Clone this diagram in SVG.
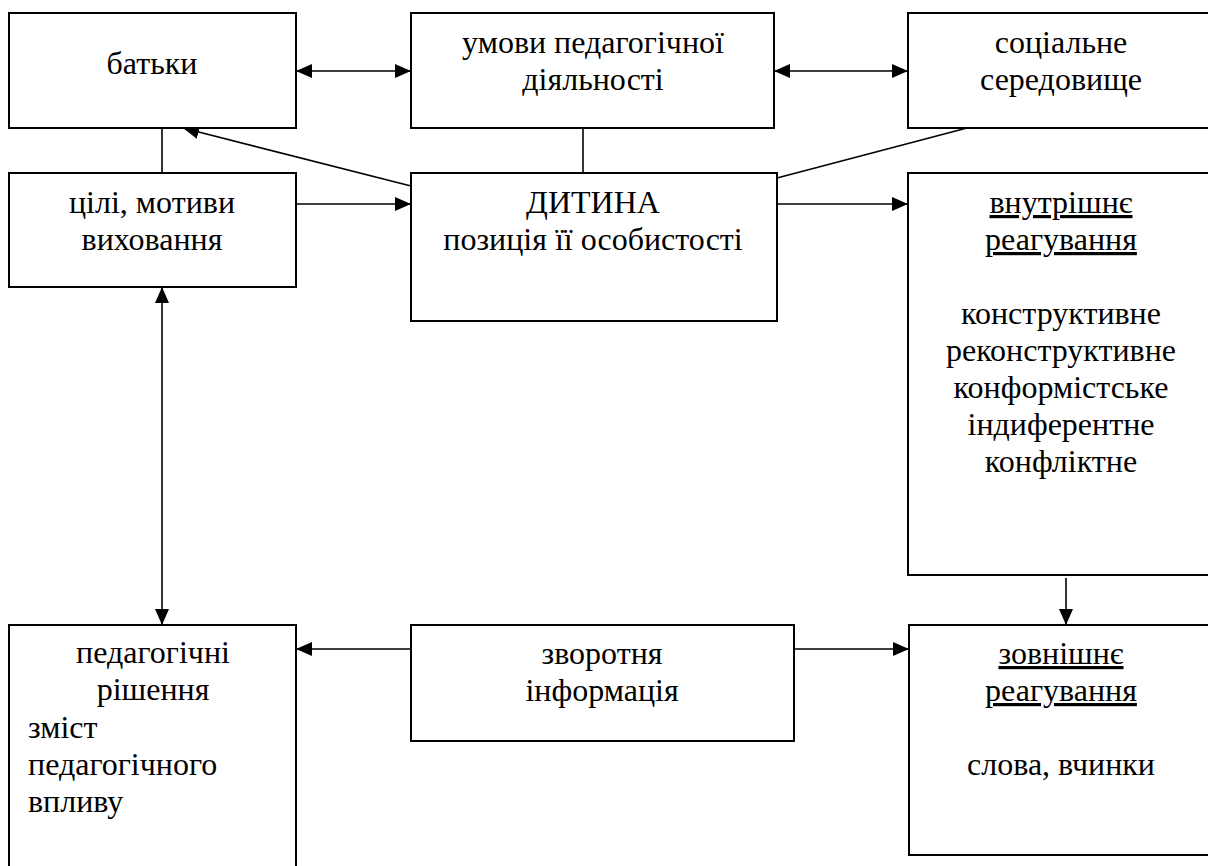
<svg xmlns="http://www.w3.org/2000/svg" width="1208" height="866" viewBox="0 0 1208 866">
<style>
.box{fill:#fff;stroke:#000;stroke-width:2}
.c{stroke:#000;stroke-width:1.6;fill:none}
</style>
<defs>
<marker id="ah" markerUnits="userSpaceOnUse" markerWidth="16" markerHeight="14" refX="16" refY="7" orient="auto-start-reverse">
<path d="M0,0 L16,7 L0,14 z" fill="#000"/>
</marker>
</defs>
<rect width="1208" height="866" fill="#fff"/>
<g id="connectors">
<line class="c" x1="296" y1="71" x2="411" y2="71" marker-start="url(#ah)" marker-end="url(#ah)"/>
<line class="c" x1="774" y1="71" x2="908" y2="71" marker-start="url(#ah)" marker-end="url(#ah)"/>
<line class="c" x1="162" y1="128" x2="162" y2="173"/>
<line class="c" x1="583" y1="128" x2="583" y2="173"/>
<line class="c" x1="411" y1="186" x2="183" y2="128" marker-end="url(#ah)"/>
<line class="c" x1="967" y1="128" x2="777" y2="178"/>
<line class="c" x1="296" y1="204" x2="411" y2="204" marker-end="url(#ah)"/>
<line class="c" x1="775" y1="204" x2="908" y2="204" marker-end="url(#ah)"/>
<line class="c" x1="162" y1="287" x2="162" y2="625" marker-start="url(#ah)" marker-end="url(#ah)"/>
<line class="c" x1="1066" y1="578" x2="1066" y2="625" marker-end="url(#ah)"/>
<line class="c" x1="411" y1="649" x2="296" y2="649" marker-end="url(#ah)"/>
<line class="c" x1="794" y1="649" x2="909" y2="649" marker-end="url(#ah)"/>
</g>
<g id="nodes" font-family="'Liberation Serif', 'Times New Roman', serif" font-size="32" fill="#000" text-anchor="middle">
<g id="batky">
<rect class="box" x="9" y="13" width="287" height="115"/>
<text x="152" y="74">батьки</text>
</g>
<g id="umovy">
<rect class="box" x="411" y="13" width="363" height="115"/>
<text x="593" y="53">умови педагогічної</text>
<text x="593" y="90">діяльності</text>
</g>
<g id="sotsialne">
<rect class="box" x="908" y="13" width="310" height="115"/>
<text x="1061" y="53">соціальне</text>
<text x="1061" y="90">середовище</text>
</g>
<g id="tsili">
<rect class="box" x="9" y="173" width="287" height="114"/>
<text x="152" y="213">цілі, мотиви</text>
<text x="152" y="250">виховання</text>
</g>
<g id="dytyna">
<rect class="box" x="411" y="173" width="366" height="148"/>
<text x="593" y="213">ДИТИНА</text>
<text x="593" y="250">позиція її особистості</text>
</g>
<g id="vnutrishne">
<rect class="box" x="908" y="173" width="310" height="402"/>
<text x="1061" y="213" text-decoration="underline">внутрішнє</text>
<text x="1061" y="250" text-decoration="underline">реагування</text>
<text x="1061" y="324">конструктивне</text>
<text x="1061" y="361">реконструктивне</text>
<text x="1061" y="398">конформістське</text>
<text x="1061" y="435">індиферентне</text>
<text x="1061" y="472">конфліктне</text>
</g>
<g id="rishennia">
<rect class="box" x="9" y="625" width="287" height="260"/>
<text x="153" y="663">педагогічні</text>
<text x="153" y="700">рішення</text>
<text x="28" y="738" text-anchor="start">зміст</text>
<text x="28" y="775" text-anchor="start">педагогічного</text>
<text x="28" y="812" text-anchor="start">впливу</text>
</g>
<g id="zvorotnia">
<rect class="box" x="411" y="625" width="383" height="116"/>
<text x="602" y="664">зворотня</text>
<text x="602" y="701">інформація</text>
</g>
<g id="zovnishne">
<rect class="box" x="909" y="625" width="310" height="230"/>
<text x="1061" y="664" text-decoration="underline">зовнішнє</text>
<text x="1061" y="701" text-decoration="underline">реагування</text>
<text x="1061" y="775">слова, вчинки</text>
</g>
</g>
</svg>
